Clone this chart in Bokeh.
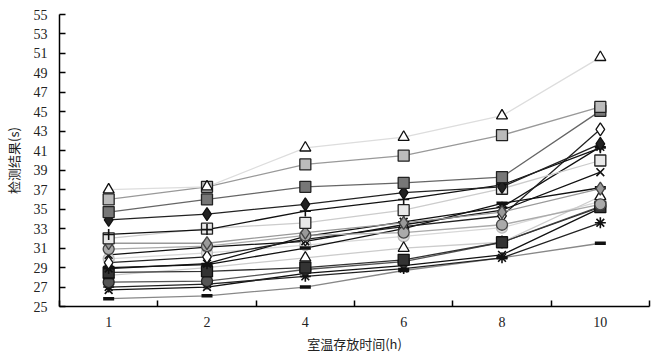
from bokeh.plotting import figure
from bokeh.models import FixedTicker, Range1d
from bokeh.embed import file_html
from bokeh.resources import INLINE

hours = ["1", "2", "4", "6", "8", "10"]
y_ticks = list(range(25, 56, 2))

s01 = [37.0, 37.3, 41.3, 42.4, 44.6, 50.6]
s02 = [36.0, 37.3, 39.6, 40.5, 42.6, 45.5]
s03 = [34.7, 36.0, 37.3, 37.7, 38.3, 45.1]
s04 = [33.9, 34.5, 35.5, 36.7, 37.3, 41.7]
s05 = [32.4, 32.9, 34.8, 36.0, 37.5, 41.3]
s06 = [32.0, 33.0, 33.6, 34.9, 37.1, 40.0]
s07 = [31.5, 31.5, 32.6, 33.6, 34.7, 37.1]
s08 = [30.9, 31.2, 32.3, 32.6, 33.4, 35.5]
s09 = [30.3, 31.1, 31.7, 33.4, 34.9, 38.8]
s10 = [29.5, 30.1, 31.9, 33.2, 34.3, 43.2]
s11 = [29.0, 29.3, 31.0, 33.0, 35.6, 37.2]
s12 = [28.9, 29.4, 32.2, 33.7, 35.2, 41.4]
s13 = [28.5, 28.6, 29.0, 29.8, 31.6, 35.2]
s14 = [28.2, 29.0, 30.0, 31.0, 31.6, 36.3]
s15 = [27.5, 27.6, 28.8, 29.6, 31.6, 35.3]
s16 = [27.0, 27.3, 28.1, 28.9, 30.0, 33.6]
s17 = [26.7, 27.0, 28.4, 29.2, 30.3, 35.1]
s18 = [25.8, 26.1, 27.0, 28.7, 30.0, 31.5]
s19 = [29.9, 30.5, 31.3, 32.2, 33.1, 35.8]

# (values, marker, fill, marker line, line colour)
series = [
    (s19, "circle", "#e0e0e0", "#bbbbbb", "#d8d8d8"),
    (s18, "dash", "#111111", "#111111", "#888888"),
    (s17, "x", None, "#111111", "#111111"),
    (s16, "asterisk", None, "#111111", "#222222"),
    (s15, "circle", "#555555", "#222222", "#555555"),
    (s14, "triangle", "#ffffff", "#111111", "#cccccc"),
    (s13, "square", "#333333", "#111111", "#333333"),
    (s12, "asterisk", None, "#111111", "#111111"),
    (s11, "dash", "#111111", "#111111", "#111111"),
    (s10, "diamond", "#ffffff", "#111111", "#222222"),
    (s09, "x", None, "#111111", "#111111"),
    (s08, "circle", "#aaaaaa", "#444444", "#aaaaaa"),
    (s07, "diamond", "#999999", "#444444", "#999999"),
    (s06, "square", "#e8e8e8", "#222222", "#cccccc"),
    (s05, "cross", None, "#111111", "#111111"),
    (s04, "diamond", "#222222", "#111111", "#222222"),
    (s03, "square", "#777777", "#222222", "#666666"),
    (s02, "square", "#bbbbbb", "#222222", "#999999"),
    (s01, "triangle", "#ffffff", "#111111", "#dddddd"),
]

x = list(range(len(hours)))

p = figure(frame_width=590, frame_height=292, output_backend="svg", toolbar_location=None,
           x_range=Range1d(-0.5, len(hours) - 0.5), y_range=Range1d(25, 55),
           min_border_left=50, min_border_top=14, min_border_right=2, min_border_bottom=40)
p.outline_line_color = None
p.xgrid.grid_line_color = None
p.ygrid.grid_line_color = None
p.background_fill_color = "white"
p.border_fill_color = "white"

for vals, marker, fill, mline, lcol in series:
    p.line(x, vals, line_color=lcol, line_width=1.3)
for vals, marker, fill, mline, lcol in series:
    if marker == "dash":
        p.scatter(x, vals, marker="dash", size=11, line_color=mline, line_width=3.5)
    elif marker in ("x", "cross", "asterisk"):
        p.scatter(x, vals, marker=marker, size=11, line_color=mline, line_width=1.6)
    else:
        p.scatter(x, vals, marker=marker, size=11 if marker != "diamond" else 13,
                  fill_color=fill, line_color=mline, line_width=1.3)

bounds = [i - 0.5 for i in range(len(hours) + 1)]
p.xaxis.ticker = FixedTicker(ticks=x, minor_ticks=bounds)
p.xaxis.major_label_overrides = {i: h for i, h in enumerate(hours)}
p.xaxis.major_tick_line_color = None
p.xaxis.minor_tick_in = 6
p.xaxis.minor_tick_out = 0
p.xaxis.minor_tick_line_color = "black"
p.xaxis.minor_tick_line_width = 1.5
p.xaxis.major_label_standoff = 4
p.xaxis.axis_label = "室温存放时间(h)"
p.xaxis.axis_label_standoff = 4

p.yaxis.ticker = FixedTicker(ticks=y_ticks)
p.yaxis.major_tick_in = 6
p.yaxis.major_tick_out = 0
p.yaxis.minor_tick_line_color = None
p.yaxis.major_tick_line_width = 1.5
p.yaxis.major_label_standoff = 12
p.yaxis.axis_label = "检测结果(s)"
p.yaxis.axis_label_standoff = 8

for ax in (p.xaxis, p.yaxis):
    ax.axis_line_color = "black"
    ax.axis_line_width = 1.5
    ax.major_label_text_font = "Liberation Serif"
    ax.major_label_text_font_size = "14px"
    ax.major_label_text_color = "#222222"
    ax.axis_label_text_font = "Noto Sans CJK SC"
    ax.axis_label_text_font_size = "13px"
    ax.axis_label_text_font_style = "normal"
    ax.axis_label_text_color = "#222222"

open("out.html", "w").write(file_html(p, INLINE))
